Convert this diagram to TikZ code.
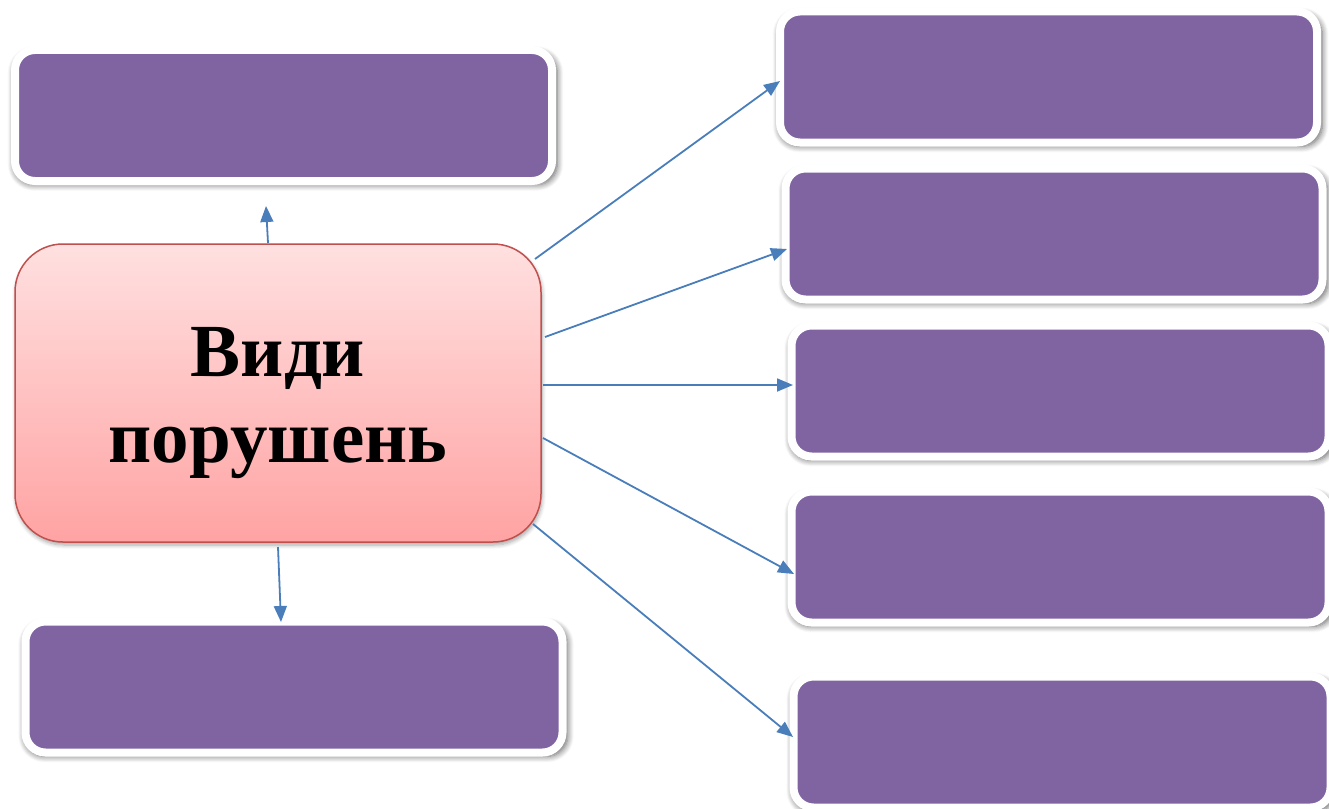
\documentclass[tikz,border=0pt]{standalone}
\usepackage{fontspec}
\setmainfont{Liberation Serif}
\usetikzlibrary{arrows.meta,shadows.blur}
\definecolor{boxpurple}{RGB}{128,100,162}
\definecolor{arrowblue}{RGB}{74,126,187}
\definecolor{hubedge}{RGB}{192,80,77}
\definecolor{hubtop}{RGB}{255,224,224}
\definecolor{hubbottom}{RGB}{255,163,163}
\begin{document}
\begin{tikzpicture}[x=1pt,y=-1pt,
  slot/.style={draw=white, line width=8pt, fill=boxpurple, rounded corners=20pt,
    minimum width=537pt, minimum height=131pt, inner sep=0pt,
    blur shadow={shadow xshift=2pt, shadow yshift=-3pt, shadow scale=1.012,
      shadow blur radius=6pt, shadow blur steps=8, shadow opacity=60,
      shadow blur extra rounding=4pt}},
  hub/.style={draw=hubedge, line width=1.5pt, rounded corners=48pt,
    top color=hubtop, bottom color=hubbottom,
    minimum width=526pt, minimum height=298pt, inner sep=0pt,
    blur shadow={shadow xshift=1pt, shadow yshift=-3pt, shadow blur radius=4pt,
      shadow blur steps=6, shadow opacity=35}},
  hubtext/.style={font=\fontsize{75}{86}\selectfont\bfseries, align=center, inner sep=0pt},
  link/.style={draw=arrowblue, line width=1.8pt, -{Triangle[length=16pt,width=13pt]}}]
  \useasboundingbox (0,0) rectangle (1329,808);

  % central node and its caption
  \node[hub] (c) at (278,393) {};
  \node[hubtext] (ctext) at (278,403) {Види\\порушень};

  % side boxes
  \node[slot] (tl) at (283.5,115.5) {};
  \node[slot] (bl) at (294,687) {};
  \node[slot] (r1) at (1048.5,77) {};
  \node[slot] (r2) at (1054,234) {};
  \node[slot] (r3) at (1060,391) {};
  \node[slot] (r4) at (1060,557) {};
  \node[slot] (r5) at (1062,742) {};

  % arrow start points on the central node
  \coordinate (s0) at (268,243);
  \coordinate (s6) at (278,547);
  \coordinate (s1) at (535,259);
  \coordinate (s2) at (545,337);
  \coordinate (s3) at (543,385);
  \coordinate (s4) at (543,438);
  \coordinate (s5) at (533,524);

  % arrow tips just short of the boxes
  \coordinate (t0) at (266,206);
  \coordinate (t6) at (281,622);
  \coordinate (t1) at (780,81);
  \coordinate (t2) at (787,249);
  \coordinate (t3) at (793,385);
  \coordinate (t4) at (794,574);
  \coordinate (t5) at (793,737);

  \draw[link] (s0) -- (t0);
  \draw[link] (s6) -- (t6);
  \draw[link] (s1) -- (t1);
  \draw[link] (s2) -- (t2);
  \draw[link] (s3) -- (t3);
  \draw[link] (s4) -- (t4);
  \draw[link] (s5) -- (t5);
\end{tikzpicture}
\end{document}
